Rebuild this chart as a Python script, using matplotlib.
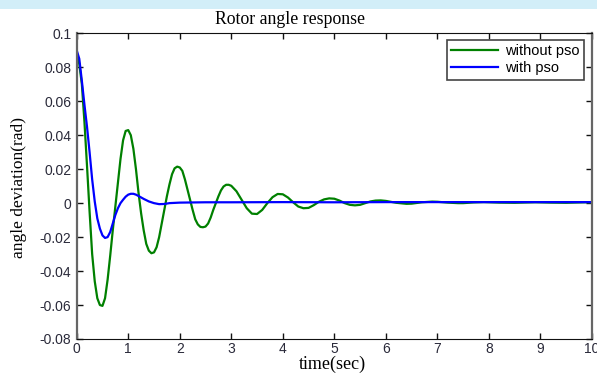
import numpy as np
import matplotlib.pyplot as plt
from matplotlib.patches import Rectangle

# time (sec) and rotor angle deviation (rad)
t_nopso = [0.00, 0.05, 0.10, 0.15, 0.20, 0.25, 0.30, 0.35, 0.40, 0.45,
           0.50, 0.55, 0.60, 0.65, 0.70, 0.75, 0.80, 0.85, 0.90, 0.95,
           1.00, 1.05, 1.10, 1.15, 1.20, 1.25, 1.30, 1.35, 1.40, 1.45,
           1.50, 1.55, 1.60, 1.65, 1.70, 1.75, 1.80, 1.85, 1.90, 1.95,
           2.00, 2.05, 2.10, 2.15, 2.20, 2.25, 2.30, 2.35, 2.40, 2.45,
           2.50, 2.55, 2.60, 2.65, 2.70, 2.75, 2.80, 2.85, 2.90, 2.95,
           3.00, 3.10, 3.20, 3.30, 3.40, 3.50, 3.60, 3.70, 3.80, 3.90,
           4.00, 4.10, 4.20, 4.30, 4.40, 4.50, 4.60, 4.70, 4.80, 4.90,
           5.00, 5.10, 5.20, 5.30, 5.40, 5.50, 5.60, 5.70, 5.80, 5.90,
           6.00, 6.20, 6.40, 6.50, 6.70, 6.90, 7.00, 7.20, 7.40, 7.50,
           7.70, 7.90, 8.20, 8.50, 8.90, 9.20, 9.50, 9.90, 10.0]
y_nopso = [0.088, 0.082, 0.070, 0.048, 0.022, -0.005, -0.030, -0.046, -0.056, -0.060,
           -0.0605, -0.056, -0.045, -0.031, -0.016, -0.002, 0.012, 0.026, 0.037, 0.0425,
           0.0430, 0.040, 0.032, 0.020, 0.006, -0.006, -0.016, -0.024, -0.028, -0.0295,
           -0.029, -0.026, -0.020, -0.012, -0.004, 0.004, 0.011, 0.017, 0.0205, 0.0215,
           0.021, 0.019, 0.014, 0.008, 0.002, -0.004, -0.0095, -0.0125, -0.014, -0.0142,
           -0.0138, -0.012, -0.0085, -0.004, 0.000, 0.004, 0.0075, 0.0098, 0.0108, 0.0108,
           0.0102, 0.0070, 0.0020, -0.0030, -0.0062, -0.0064, -0.0040, 0.0000, 0.0035, 0.0054,
           0.0052, 0.0033, 0.0005, -0.0020, -0.0030, -0.0028, -0.0012, 0.0008, 0.0022, 0.0028,
           0.0026, 0.0015, 0.0000, -0.0010, -0.0013, -0.0010, 0.0000, 0.0010, 0.0015, 0.0016,
           0.0013, 0.0002, -0.0004, -0.0003, 0.0005, 0.0009, 0.0008, 0.0003, 0.0000, 0.0000,
           0.0004, 0.0006, 0.0003, 0.0002, 0.0005, 0.0003, 0.0002, 0.0005, 0.0005]

t_pso = [0.00, 0.05, 0.10, 0.15, 0.20, 0.25, 0.30, 0.35, 0.40, 0.45,
         0.50, 0.55, 0.60, 0.65, 0.70, 0.75, 0.80, 0.85, 0.90, 0.95,
         1.00, 1.05, 1.10, 1.15, 1.20, 1.30, 1.40, 1.50, 1.60, 1.70,
         1.80, 2.00, 2.50, 3.00, 4.00, 5.00, 6.00, 7.00, 8.00, 9.00, 10.0]
y_pso = [0.090, 0.085, 0.072, 0.058, 0.045, 0.030, 0.014, 0.001, -0.009, -0.015,
         -0.019, -0.0205, -0.020, -0.017, -0.012, -0.007, -0.003, 0.000, 0.002, 0.0038,
         0.0050, 0.0055, 0.0055, 0.0050, 0.0042, 0.0025, 0.0010, 0.0000, -0.0006, -0.0005,
         0.0000, 0.0003, 0.0005, 0.0005, 0.0006, 0.0005, 0.0006, 0.0006, 0.0006, 0.0006, 0.0006]

x_ticks = list(range(0, 11))
y_ticks = [-0.08, -0.06, -0.04, -0.02, 0, 0.02, 0.04, 0.06, 0.08, 0.1]
y_labels = ["-0.08", "-0.06", "-0.04", "-0.02", "0", "0.02", "0.04", "0.06", "0.08", "0.1"]

W, H = 597, 374
fig = plt.figure(figsize=(W / 100, H / 100), dpi=100)
fig.patches.append(Rectangle((0, 1 - 9 / H), 1, 9 / H, transform=fig.transFigure,
                             facecolor="#d2eef8", edgecolor="none"))

ax = fig.add_axes([76.7 / W, 1 - 339 / H, (592 - 76.7) / W, (339 - 33.3) / H])
ax.plot(t_nopso, y_nopso, color="#008000", lw=1.6, label="without pso")
ax.plot(t_pso, y_pso, color="#0000ff", lw=1.6, label="with pso")

ax.set_xlim(0, 10)
ax.set_ylim(-0.08, 0.1)
ax.set_xticks(x_ticks)
ax.set_yticks(y_ticks)
ax.set_yticklabels(y_labels)
ax.tick_params(direction="in", top=True, right=True, length=4, width=1,
               labelsize=10, labelcolor="#2a2a3a", color="#111111", pad=4)
ax.tick_params(axis="x", pad=2)
for lab in ax.get_xticklabels() + ax.get_yticklabels():
    lab.set_family("Liberation Sans")
for s in ["top", "bottom"]:
    ax.spines[s].set_color("#111111")
for s in ["left", "right"]:
    ax.spines[s].set_color("#666666")
    ax.spines[s].set_linewidth(1.6)

serif = "Liberation Serif"
fig.text(290 / W, 1 - 19 / H, "Rotor angle response", ha="center", va="center",
         family=serif, fontsize=12.8)
fig.text(332 / W, 1 - 364 / H, "time(sec)", ha="center", va="center",
         family=serif, fontsize=13)
fig.text(19 / W, 1 - 187 / H, "angle deviation(rad)", ha="center", va="center",
         rotation=90, family=serif, fontsize=12.5)

leg = ax.legend(loc="upper right", bbox_to_anchor=(0.985, 0.978), borderaxespad=0,
                fancybox=False, edgecolor="#444444", framealpha=1,
                prop={"family": "Liberation Sans", "size": 10.5},
                handlelength=3.2, handletextpad=0.5, labelspacing=0.2,
                borderpad=0.3)
leg.get_frame().set_linewidth(1.2)

fig.savefig("out.png", dpi=100)
